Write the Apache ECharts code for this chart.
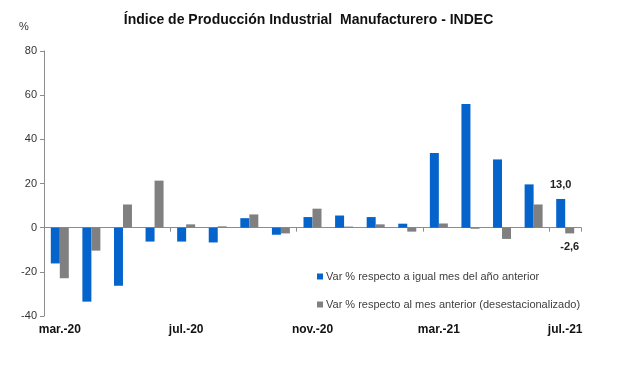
<!DOCTYPE html>
<html>
<head>
<meta charset="utf-8">
<script src="https://cdn.jsdelivr.net/npm/echarts@6/dist/echarts.min.js"></script>
<style>
html,body{margin:0;padding:0;background:#fff;}
#chart{width:617px;height:374px;}
</style>
</head>
<body>
<div id="chart"></div>
<script>
const categories = ['mar.-20','abr.-20','may.-20','jun.-20','jul.-20','ago.-20','sep.-20','oct.-20','nov.-20','dic.-20','ene.-21','feb.-21','mar.-21','abr.-21','may.-21','jun.-21','jul.-21'];
const interanual = [-16.2,-33.5,-26.3,-6.3,-6.3,-6.7,4.3,-3.2,4.8,5.5,4.8,1.8,33.8,56.0,30.9,19.6,13.0];
const mensual = [-22.9,-10.4,10.5,21.3,1.5,0.6,6.0,-2.6,8.6,0.5,1.5,-1.8,1.9,-0.5,-5.1,10.5,-2.6];
const yTicks = [-40,-20,0,20,40,60,80];
const seriesNames = ['Var % respecto a igual mes del año anterior','Var % respecto al mes anterior (desestacionalizado)'];

const FONT = 'Liberation Sans, Arial, sans-serif';
const fmt = v => v.toFixed(1).replace('.', ',');
const last = categories.length - 1;

function withLastLabel(arr, pos, dist) {
  return arr.map((v, i) => i === last ? {
    value: v,
    label: { show: true, position: pos, distance: dist, formatter: p => fmt(p.value),
      fontFamily: FONT, fontWeight: 'bold', fontSize: 11, color: '#222' }
  } : v);
}

const chart = echarts.init(document.getElementById('chart'), null, {renderer: 'canvas'});
chart.setOption({
  backgroundColor: '#ffffff',
  animation: false,
  title: {
    text: 'Índice de Producción Industrial  Manufacturero - INDEC',
    left: 'center', top: 8,
    textStyle: { fontFamily: FONT, fontSize: 14, fontWeight: 'bold', color: '#111' }
  },
  graphic: [{
    type: 'text', left: 19, top: 21,
    style: { text: '%', fontFamily: FONT, fontSize: 11, fill: '#333' }
  }],
  legend: {
    orient: 'vertical', left: 312, top: 266, itemGap: 17,
    icon: 'rect', itemWidth: 6, itemHeight: 6,
    textStyle: { fontFamily: FONT, fontSize: 11, color: '#404040', padding: [0,0,0,-2] },
    data: seriesNames
  },
  grid: { left: 44, right: 36, top: 51, bottom: 58, containLabel: false },
  xAxis: [{
    type: 'category', data: categories, position: 'bottom',
    axisLine: { show: false, onZero: false },
    axisTick: { show: false },
    axisLabel: { interval: 3, fontFamily: FONT, fontWeight: 'bold', fontSize: 12, color: '#111', margin: 8 }
  }, {
    type: 'category', data: categories, position: 'bottom',
    axisLine: { show: true, onZero: true, onZeroAxisIndex: 0, lineStyle: { color: '#8c8c8c', width: 1 } },
    axisTick: { show: true, interval: 3, length: 4, inside: false, lineStyle: { color: '#8c8c8c' } },
    axisLabel: { show: false }
  }],
  yAxis: {
    type: 'value', min: yTicks[0], max: yTicks[yTicks.length - 1], interval: 20,
    axisLine: { show: true, lineStyle: { color: '#8c8c8c' } },
    axisTick: { show: true, length: 4, inside: false, lineStyle: { color: '#8c8c8c' } },
    splitLine: { show: false },
    axisLabel: { fontFamily: FONT, fontSize: 11, color: '#333', margin: 7 }
  },
  series: [{
    name: seriesNames[0], type: 'bar', xAxisIndex: 0,
    data: withLastLabel(interanual, 'top', 8),
    barWidth: 9, barGap: '0%',
    itemStyle: { color: '#0563CC' }
  }, {
    name: seriesNames[1], type: 'bar', xAxisIndex: 0,
    data: withLastLabel(mensual, 'bottom', 8),
    barWidth: 9, barGap: '0%',
    itemStyle: { color: '#808080' }
  }]
});
</script>
</body>
</html>
